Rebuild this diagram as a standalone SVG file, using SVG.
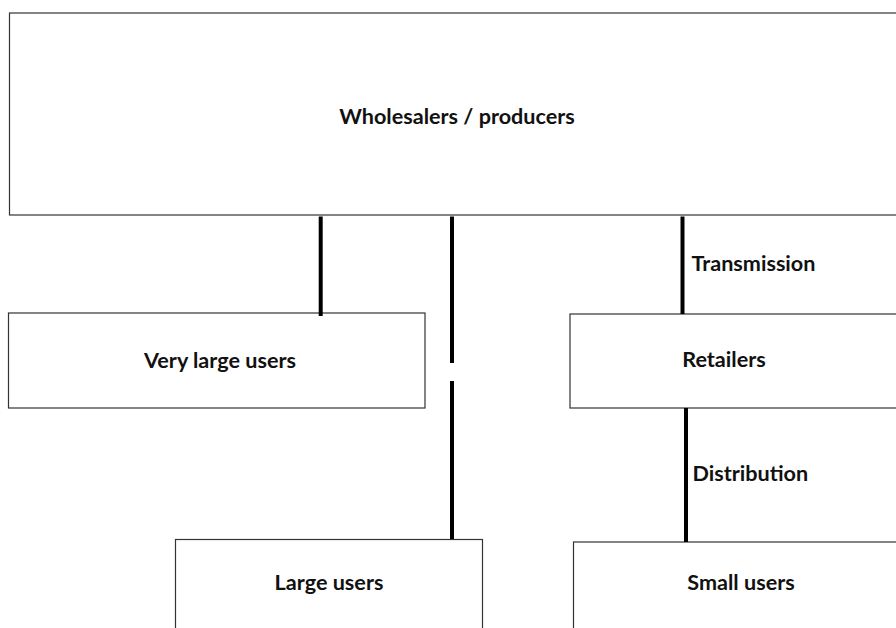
<svg xmlns="http://www.w3.org/2000/svg" width="896" height="628" viewBox="0 0 896 628">
<style>
.box{fill:#fff;stroke:#333;stroke-width:1.2}
.lbl{font-family:Lato,"Open Sans","Liberation Sans",sans-serif;font-weight:bold;font-size:21.6px;fill:#111}
.c{text-anchor:middle}
.conn line{stroke:#000;stroke-width:4}
</style>
<rect width="896" height="628" fill="#fff"/>
<g id="wholesalers">
<rect class="box" x="9.5" y="13" width="890" height="202"/>
<text class="lbl c" x="457" y="124">Wholesalers / producers</text>
</g>
<g id="very-large-users">
<rect class="box" x="8.5" y="313" width="416.5" height="95"/>
<text class="lbl c" x="220" y="367.5">Very large users</text>
</g>
<g id="retailers">
<rect class="box" x="570" y="314" width="330" height="94"/>
<text class="lbl c" x="724" y="366.5">Retailers</text>
</g>
<g id="large-users">
<rect class="box" x="175.5" y="539.5" width="307" height="100"/>
<text class="lbl c" x="329" y="590">Large users</text>
</g>
<g id="small-users">
<rect class="box" x="573.5" y="542" width="340" height="100"/>
<text class="lbl c" x="741" y="590">Small users</text>
</g>
<g id="connectors" class="conn">
<line x1="320.7" y1="216.5" x2="320.7" y2="316"/>
<line x1="452" y1="216.5" x2="452" y2="363"/>
<line x1="452" y1="381" x2="452" y2="539"/>
<line x1="682.5" y1="216.5" x2="682.5" y2="314"/>
<line x1="686" y1="408" x2="686" y2="542"/>
<text class="lbl" x="691.5" y="271">Transmission</text>
<text class="lbl" x="692.5" y="481">Distribution</text>
</g>
</svg>
